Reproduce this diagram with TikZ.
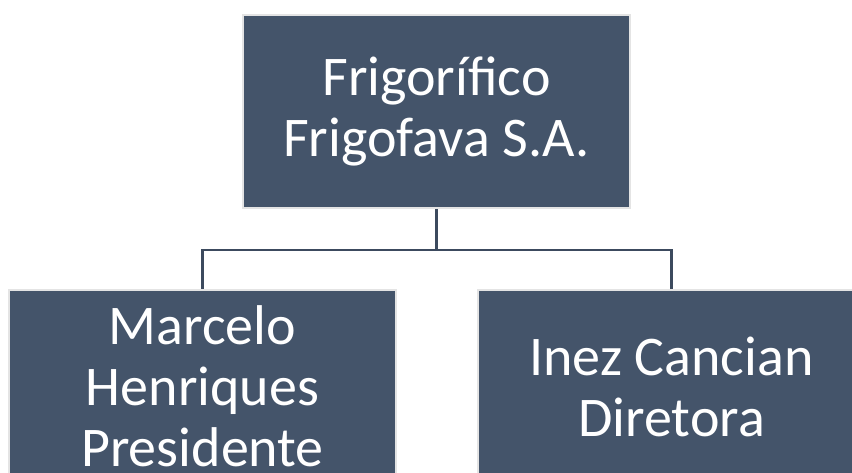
\documentclass[tikz,border=0pt]{standalone}
\usepackage{fontspec}
\setmainfont{Carlito}
\definecolor{boxfill}{HTML}{44546A}
\definecolor{boxedge}{HTML}{E4E4E4}
\definecolor{linecol}{HTML}{3C4A5E}
\tikzset{
  orgbox/.style={rectangle, fill=boxfill, draw=boxedge, line width=1.6pt,
    minimum width=387pt, minimum height=193pt, inner sep=0pt,
    text=white, align=center, font=\fontsize{56}{61}\selectfont},
  conn/.style={draw=linecol, line width=2.4pt}
}
\begin{document}
\begin{tikzpicture}[x=1pt,y=1pt]
\useasboundingbox (0,0) rectangle (852,473);
\clip (0,0) rectangle (852,473);
\fill[white] (0,0) rectangle (852,473);
\node[orgbox] (top) at (436.5,361.5) {Frigorífico\\Frigofava S.A.};
\node[orgbox] (left) at (202.5,86.5) {Marcelo\\Henriques\\Presidente};
\node[orgbox] (right) at (671.5,86.5) {Inez Cancian\\Diretora};
\draw[conn] (top.south) -- ++(0,-41) coordinate (hub) -| (left.north);
\draw[conn] (hub) -| (right.north);
\end{tikzpicture}
\end{document}
